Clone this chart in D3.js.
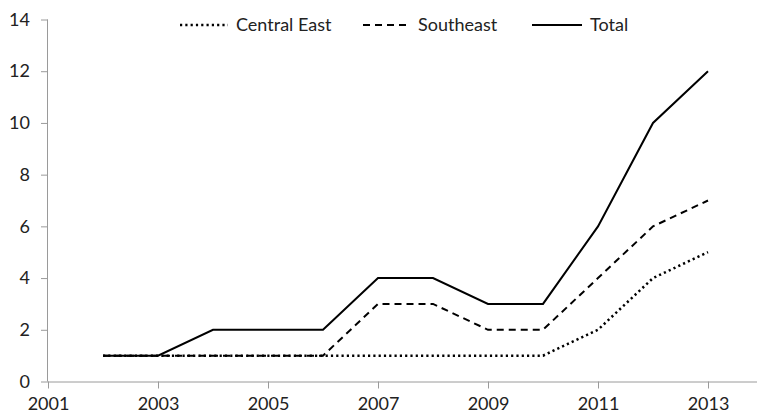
<!DOCTYPE html>
<html><head><meta charset="utf-8">
<script src="https://cdn.jsdelivr.net/npm/d3@7"></script>
<style>body{margin:0;background:#fff}svg{display:block}text{font-family:Lato,"Open Sans",sans-serif;fill:#222}</style>
</head><body><svg id="c" width="757" height="415"></svg>
<script>
const years = [2002,2003,2004,2005,2006,2007,2008,2009,2010,2011,2012,2013];
const centralEast = [1,1,1,1,1,1,1,1,1,2,4,5];
const southeast = [1,1,1,1,1,3,3,2,2,4,6,7];
const total = [1,1,2,2,2,4,4,3,3,6,10,12];
const xTicks = [2001,2003,2005,2007,2009,2011,2013];
const yTicks = [0,2,4,6,8,10,12,14];
const seriesNames = ["Central East","Southeast","Total"];

const svg = d3.select("#c");
const x = d3.scaleLinear().domain([2001,2014]).range([48,763]);
const y = d3.scaleLinear().domain([0,14]).range([381.5,19.5]);
const axisColor = "#9a9a9a";
const fs = "18px";

// y axis
const ya = svg.append("g").attr("transform","translate(48,0)")
  .call(d3.axisLeft(y).tickValues(yTicks).tickSize(7).tickPadding(11).tickFormat(d3.format("d")));
ya.select(".domain").attr("stroke",axisColor).attr("d","M-0.5,19.5V381.5");
ya.selectAll(".tick line").attr("stroke",axisColor);
ya.selectAll("text").style("font-size",fs).attr("fill","#222");

// x axis
const xa = svg.append("g").attr("transform","translate(0,381.5)")
  .call(d3.axisBottom(x).tickValues(xTicks).tickSize(7).tickPadding(9).tickFormat(d3.format("d")));
xa.select(".domain").attr("stroke",axisColor).attr("d","M48,0.5H763");
xa.selectAll(".tick line").attr("stroke",axisColor);
xa.selectAll("text").style("font-size",fs).attr("fill","#222");

const styles = [
  {dash:"2.2,3.1", w:2.5},
  {dash:"7,5", w:2},
  {dash:null, w:2}
];
const data = [centralEast, southeast, total];
const line = d3.line().x((d,i)=>x(years[i])).y(d=>y(d));
data.forEach((s,k)=>{
  svg.append("path").attr("d",line(s)).attr("fill","none").attr("stroke","#000")
    .attr("stroke-width",styles[k].w).attr("stroke-dasharray",styles[k].dash);
});

// legend
const legX = [180,363,532];
const legLen = [48,47,50];
seriesNames.forEach((n,k)=>{
  const g = svg.append("g");
  g.append("line").attr("x1",legX[k]).attr("x2",legX[k]+legLen[k]).attr("y1",25).attr("y2",25)
    .attr("stroke","#000").attr("stroke-width",styles[k].w).attr("stroke-dasharray",styles[k].dash);
  g.append("text").attr("x",legX[k]+legLen[k]+8).attr("y",25).attr("dy","0.35em")
    .style("font-size",fs).text(n);
});
</script></body></html>
